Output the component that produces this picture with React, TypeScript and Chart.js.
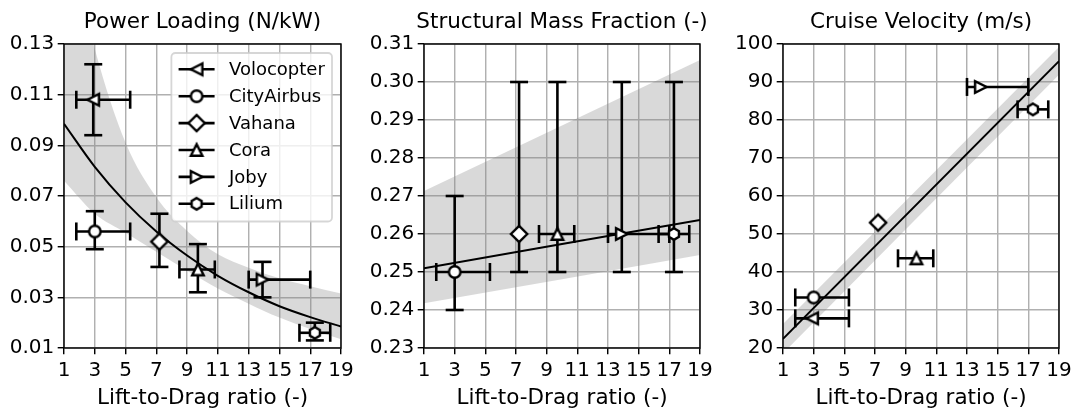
import React, { useEffect, useRef } from "react";
import { Chart, registerables } from "chart.js";

Chart.register(...registerables);

// ---- data ----------------------------------------------------------------

const aircraft = ["Volocopter", "CityAirbus", "Vahana", "Cora", "Joby", "Lilium"];
const markerKinds = ["triLeft", "circle", "diamond", "triUp", "triRight", "hexagon"];

// Lift-to-drag ratio of each aircraft with its range
const ldValue = [2.9, 3.0, 7.2, 9.7, 13.9, 17.3];
const ldLow: (number | null)[] = [1.8, 1.8, null, 8.5, 13.0, 16.3];
const ldHigh: (number | null)[] = [5.3, 5.3, null, 10.8, 17.0, 18.3];
const ldTicks = [1, 3, 5, 7, 9, 11, 13, 15, 17, 19];

// Power loading (N/kW)
const plValue = [0.108, 0.056, 0.052, 0.041, 0.037, 0.016];
const plLow = [0.094, 0.049, 0.042, 0.032, 0.030, 0.013];
const plHigh = [0.122, 0.064, 0.063, 0.051, 0.044, 0.020];
const plFitX = [1, 3, 5, 7, 9, 11, 13, 15, 17, 19];
const plFit = [0.0985, 0.0815, 0.0675, 0.056, 0.0465, 0.0385, 0.032, 0.0265, 0.0222, 0.0185];
const plBandUpper = [0.18, 0.128, 0.091, 0.0695, 0.0562, 0.047, 0.0417, 0.0375, 0.0344, 0.0315];
const plBandLower = [0.076, 0.063, 0.0555, 0.048, 0.0405, 0.0335, 0.0275, 0.022, 0.0175, 0.0135];
const plTicks = [0.01, 0.03, 0.05, 0.07, 0.09, 0.11, 0.13];
const plTickLabels = ["0.01", "0.03", "0.05", "0.07", "0.09", "0.11", "0.13"];

// Structural mass fraction (-)
const smfValue: (number | null)[] = [null, 0.25, 0.26, 0.26, 0.26, 0.26];
const smfLow: (number | null)[] = [null, 0.24, 0.25, 0.25, 0.25, 0.25];
const smfHigh: (number | null)[] = [null, 0.27, 0.3, 0.3, 0.3, 0.3];
const smfFitX = [1, 19];
const smfFit = [0.251, 0.2637];
const smfBandUpper = [0.2713, 0.3058];
const smfBandLower = [0.2418, 0.2545];
const smfTicks = [0.23, 0.24, 0.25, 0.26, 0.27, 0.28, 0.29, 0.3, 0.31];
const smfTickLabels = ["0.23", "0.24", "0.25", "0.26", "0.27", "0.28", "0.29", "0.30", "0.31"];

// Cruise velocity (m/s)
const cvValue = [27.8, 33.3, 53.0, 43.6, 88.7, 82.8];
const cvFitX = [1, 19];
const cvFit = [22.4, 95.5];
const cvBandUpper = [26.3, 99.2];
const cvBandLower = [18.6, 91.9];
const cvTicks = [20, 30, 40, 50, 60, 70, 80, 90, 100];
const cvTickLabels = ["20", "30", "40", "50", "60", "70", "80", "90", "100"];

// ---- style ---------------------------------------------------------------

const FONT = "'DejaVu Sans', 'Liberation Sans', sans-serif";
const TICK_SIZE = 20;
const LABEL_SIZE = 21.5;
const LEGEND_SIZE = 18;
const FIG_H = 419;
const AREA_TOP = 44;
const AREA_BOTTOM = 348;
const TITLE_BASELINE = 28;
const XLABEL_BASELINE = 404;
const GRID = "#b0b0b0";
const LINE_W = 1.44;
const ERR_W = 2.6;
const CAP = 9;
const MARKER_SIZE = 11.5;
const MARKER_EDGE = 2.4;
const FIT_W = 2.0;
const BAND = "rgba(128,128,128,0.3)";

type Panel = {
  title: string;
  canvasLeft: number;
  canvasWidth: number;
  areaLeft: number;
  areaRight: number;
  yMin: number;
  yMax: number;
  yTicks: number[];
  yTickLabels: string[];
  value: (number | null)[];
  low: (number | null)[] | null;
  high: (number | null)[] | null;
  fitX: number[];
  fit: number[];
  bandUpper: number[];
  bandLower: number[];
  legend: boolean;
};

const panels: Panel[] = [
  {
    title: "Power Loading (N/kW)",
    canvasLeft: 0,
    canvasWidth: 360,
    areaLeft: 64,
    areaRight: 341,
    yMin: 0.01,
    yMax: 0.13,
    yTicks: plTicks,
    yTickLabels: plTickLabels,
    value: plValue,
    low: plLow,
    high: plHigh,
    fitX: plFitX,
    fit: plFit,
    bandUpper: plBandUpper,
    bandLower: plBandLower,
    legend: true,
  },
  {
    title: "Structural Mass Fraction (-)",
    canvasLeft: 360,
    canvasWidth: 360,
    areaLeft: 64,
    areaRight: 340,
    yMin: 0.23,
    yMax: 0.31,
    yTicks: smfTicks,
    yTickLabels: smfTickLabels,
    value: smfValue,
    low: smfLow,
    high: smfHigh,
    fitX: smfFitX,
    fit: smfFit,
    bandUpper: smfBandUpper,
    bandLower: smfBandLower,
    legend: false,
  },
  {
    title: "Cruise Velocity (m/s)",
    canvasLeft: 720,
    canvasWidth: 362,
    areaLeft: 63,
    areaRight: 339,
    yMin: 20,
    yMax: 100,
    yTicks: cvTicks,
    yTickLabels: cvTickLabels,
    value: cvValue,
    low: null,
    high: null,
    fitX: cvFitX,
    fit: cvFit,
    bandUpper: cvBandUpper,
    bandLower: cvBandLower,
    legend: false,
  },
];

// ---- marker images -------------------------------------------------------

function makeMarker(kind: string): HTMLCanvasElement {
  const size = 28;
  const c = document.createElement("canvas");
  c.width = size;
  c.height = size;
  const g = c.getContext("2d")!;
  const h = MARKER_SIZE / 2;
  g.translate(size / 2, size / 2);
  g.beginPath();
  if (kind === "circle") {
    g.arc(0, 0, h, 0, Math.PI * 2);
  } else if (kind === "triUp") {
    g.moveTo(0, -h);
    g.lineTo(-h, h);
    g.lineTo(h, h);
    g.closePath();
  } else if (kind === "triLeft") {
    g.moveTo(-h, 0);
    g.lineTo(h, -h);
    g.lineTo(h, h);
    g.closePath();
  } else if (kind === "triRight") {
    g.moveTo(h, 0);
    g.lineTo(-h, h);
    g.lineTo(-h, -h);
    g.closePath();
  } else if (kind === "diamond") {
    const d = MARKER_SIZE * Math.SQRT1_2;
    g.moveTo(0, -d);
    g.lineTo(d, 0);
    g.lineTo(0, d);
    g.lineTo(-d, 0);
    g.closePath();
  } else {
    for (let i = 0; i < 6; i++) {
      const a = -Math.PI / 2 + (i * Math.PI) / 3;
      const px = h * Math.cos(a);
      const py = h * Math.sin(a);
      if (i === 0) g.moveTo(px, py);
      else g.lineTo(px, py);
    }
    g.closePath();
  }
  g.fillStyle = "#ffffff";
  g.fill();
  g.lineWidth = MARKER_EDGE;
  g.strokeStyle = "#000000";
  g.lineJoin = "miter";
  g.stroke();
  return c;
}

// ---- plugins -------------------------------------------------------------

const errorBarPlugin = {
  id: "errorBars",
  beforeDatasetDraw(chart: any, args: any) {
    const ds = chart.data.datasets[args.index];
    if (!ds.errors) return;
    const xs = chart.scales.x;
    const ys = chart.scales.y;
    const ctx: CanvasRenderingContext2D = chart.ctx;
    const e = ds.errors;
    const p = ds.data[0];
    const px = xs.getPixelForValue(p.x);
    const py = ys.getPixelForValue(p.y);
    ctx.save();
    ctx.strokeStyle = "#000";
    ctx.lineWidth = ERR_W;
    ctx.lineCap = "butt";
    const seg = (x1: number, y1: number, x2: number, y2: number) => {
      ctx.beginPath();
      ctx.moveTo(x1, y1);
      ctx.lineTo(x2, y2);
      ctx.stroke();
    };
    if (e.yLow != null && e.yHigh != null) {
      const y1 = ys.getPixelForValue(e.yLow);
      const y2 = ys.getPixelForValue(e.yHigh);
      seg(px, y1, px, y2);
      seg(px - CAP, y1, px + CAP, y1);
      seg(px - CAP, y2, px + CAP, y2);
    }
    if (e.xLow != null && e.xHigh != null) {
      const x1 = xs.getPixelForValue(e.xLow);
      const x2 = xs.getPixelForValue(e.xHigh);
      seg(x1, py, x2, py);
      seg(x1, py - CAP, x1, py + CAP);
      seg(x2, py - CAP, x2, py + CAP);
    }
    ctx.restore();
  },
};

function drawLegend(chart: any, markers: HTMLCanvasElement[]) {
  const ctx: CanvasRenderingContext2D = chart.ctx;
  const area = chart.chartArea;
  const em = LEGEND_SIZE;
  ctx.save();
  ctx.font = `${em}px ${FONT}`;
  let textW = 0;
  aircraft.forEach((n) => (textW = Math.max(textW, ctx.measureText(n).width)));
  const pad = 0.4 * em;
  const handleLen = 2 * em;
  const handlePad = 0.8 * em;
  const rowH = 26.9;
  const w = pad + handleLen + handlePad + textW + pad;
  const h = 16.3 + rowH * (aircraft.length - 1) + 17.7;
  const right = area.right - 0.5 * em;
  const left = right - w;
  const top = area.top + 0.5 * em;
  const r = 4;
  ctx.beginPath();
  ctx.moveTo(left + r, top);
  ctx.lineTo(right - r, top);
  ctx.arcTo(right, top, right, top + r, r);
  ctx.lineTo(right, top + h - r);
  ctx.arcTo(right, top + h, right - r, top + h, r);
  ctx.lineTo(left + r, top + h);
  ctx.arcTo(left, top + h, left, top + h - r, r);
  ctx.lineTo(left, top + r);
  ctx.arcTo(left, top, left + r, top, r);
  ctx.closePath();
  ctx.fillStyle = "rgba(255,255,255,0.8)";
  ctx.fill();
  ctx.strokeStyle = "rgba(204,204,204,0.8)";
  ctx.lineWidth = 1.8;
  ctx.stroke();
  aircraft.forEach((n, i) => {
    const cy = top + 16.3 + i * rowH;
    const hx = left + pad;
    ctx.strokeStyle = "#000";
    ctx.lineWidth = ERR_W;
    ctx.beginPath();
    ctx.moveTo(hx, cy);
    ctx.lineTo(hx + handleLen, cy);
    ctx.stroke();
    const m = markers[i];
    ctx.drawImage(m, hx + handleLen / 2 - m.width / 2, cy - m.height / 2);
    ctx.fillStyle = "#000";
    ctx.textAlign = "left";
    ctx.textBaseline = "middle";
    ctx.fillText(n, hx + handleLen + handlePad, cy + 1);
  });
  ctx.restore();
}

// ---- chart construction --------------------------------------------------

function buildChart(canvas: HTMLCanvasElement, p: Panel, markers: HTMLCanvasElement[]) {
  const datasets: any[] = [];
  aircraft.forEach((name, i) => {
    const v = p.value[i];
    if (v == null) return;
    datasets.push({
      type: "scatter",
      label: name,
      data: [{ x: ldValue[i], y: v }],
      pointStyle: markers[i],
      pointRadius: 7,
      clip: false,
      order: 10 - i,
      errors: {
        xLow: ldLow[i],
        xHigh: ldHigh[i],
        yLow: p.low ? p.low[i] : null,
        yHigh: p.high ? p.high[i] : null,
      },
    });
  });
  datasets.push({
    type: "line",
    label: "fit",
    data: p.fitX.map((x, i) => ({ x, y: p.fit[i] })),
    borderColor: "#000",
    borderWidth: FIT_W,
    pointRadius: 0,
    cubicInterpolationMode: "monotone",
    fill: false,
    order: 20,
  });
  datasets.push({
    type: "line",
    label: "lower",
    data: p.fitX.map((x, i) => ({ x, y: p.bandLower[i] })),
    borderColor: "rgba(0,0,0,0)",
    borderWidth: 0,
    pointRadius: 0,
    cubicInterpolationMode: "monotone",
    fill: false,
    order: 31,
  });
  datasets.push({
    type: "line",
    label: "upper",
    data: p.fitX.map((x, i) => ({ x, y: p.bandUpper[i] })),
    borderColor: "rgba(0,0,0,0)",
    borderWidth: 0,
    pointRadius: 0,
    cubicInterpolationMode: "monotone",
    fill: "-1",
    backgroundColor: BAND,
    order: 30,
  });

  const framePlugin = {
    id: "panelFrame",
    afterDatasetsDraw(chart: any) {
      const { ctx, chartArea: a } = chart;
      ctx.save();
      ctx.strokeStyle = "#000";
      ctx.lineWidth = LINE_W;
      ctx.strokeRect(a.left, a.top, a.right - a.left, a.bottom - a.top);
      ctx.restore();
      if (p.legend) drawLegend(chart, markers);
    },
    afterDraw(chart: any) {
      const { ctx, chartArea: a } = chart;
      const cx = (a.left + a.right) / 2;
      ctx.save();
      ctx.fillStyle = "#000";
      ctx.font = `${LABEL_SIZE}px ${FONT}`;
      ctx.textAlign = "center";
      ctx.textBaseline = "alphabetic";
      ctx.fillText(p.title, cx, TITLE_BASELINE);
      ctx.fillText("Lift-to-Drag ratio (-)", cx, XLABEL_BASELINE);
      ctx.restore();
    },
  };

  const gridOpts = {
    color: GRID,
    lineWidth: LINE_W,
    drawTicks: true,
    tickLength: 6.3,
    tickColor: "#000",
    tickWidth: LINE_W,
  };

  return new Chart(canvas, {
    type: "scatter",
    data: { datasets },
    options: {
      animation: false,
      responsive: false,
      maintainAspectRatio: false,
      devicePixelRatio: 1,
      events: [],
      layout: {
        padding: { left: 0, top: AREA_TOP, right: p.canvasWidth - p.areaRight, bottom: 0 },
      },
      plugins: {
        legend: { display: false },
        tooltip: { enabled: false },
      },
      scales: {
        x: {
          type: "linear",
          min: 1,
          max: 19,
          grid: gridOpts,
          border: { display: false },
          afterBuildTicks: (s: any) => {
            s.ticks = ldTicks.map((v) => ({ value: v }));
          },
          afterFit: (s: any) => {
            s.height = FIG_H - AREA_BOTTOM;
          },
          ticks: {
            autoSkip: false,
            maxRotation: 0,
            padding: 4,
            color: "#000",
            font: { family: FONT, size: TICK_SIZE },
            callback: (_v: any, i: number) => String(ldTicks[i]),
          },
        },
        y: {
          type: "linear",
          min: p.yMin,
          max: p.yMax,
          grid: gridOpts,
          border: { display: false },
          afterBuildTicks: (s: any) => {
            s.ticks = p.yTicks.map((v) => ({ value: v }));
          },
          afterFit: (s: any) => {
            s.width = p.areaLeft;
          },
          ticks: {
            autoSkip: false,
            padding: 3.5,
            color: "#000",
            font: { family: FONT, size: TICK_SIZE },
            callback: (_v: any, i: number) => p.yTickLabels[i],
          },
        },
      },
    } as any,
    plugins: [errorBarPlugin, framePlugin],
  });
}

export default function App() {
  const r0 = useRef<HTMLCanvasElement>(null);
  const r1 = useRef<HTMLCanvasElement>(null);
  const r2 = useRef<HTMLCanvasElement>(null);
  const refs = [r0, r1, r2];

  useEffect(() => {
    const markers = markerKinds.map(makeMarker);
    const charts = panels.map((p, i) => buildChart(refs[i].current!, p, markers));
    return () => charts.forEach((c) => c.destroy());
  }, []);

  return (
    <div
      style={{
        position: "fixed",
        left: 0,
        top: 0,
        width: 1082,
        height: FIG_H,
        background: "#ffffff",
      }}
    >
      {panels.map((p, i) => (
        <canvas
          key={p.title}
          ref={refs[i]}
          width={p.canvasWidth}
          height={FIG_H}
          style={{
            position: "absolute",
            left: p.canvasLeft,
            top: 0,
            width: p.canvasWidth,
            height: FIG_H,
          }}
        />
      ))}
    </div>
  );
}
